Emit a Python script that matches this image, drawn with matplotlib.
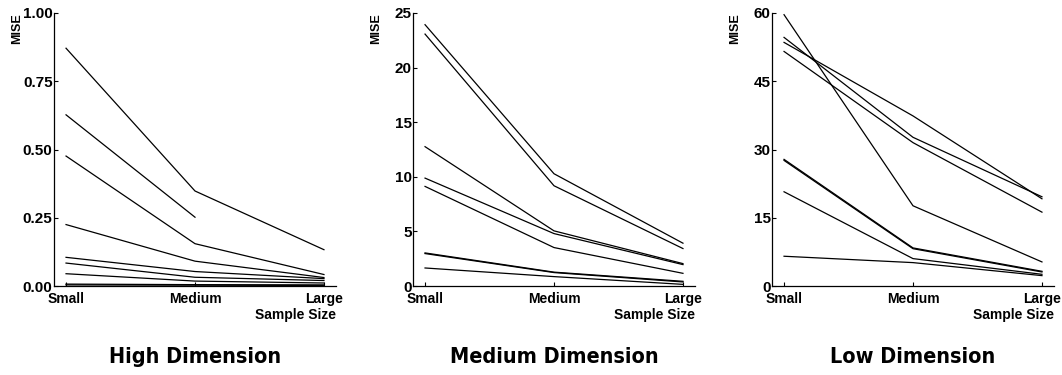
import numpy as np
import matplotlib
matplotlib.use("Agg")
import matplotlib.pyplot as plt
from matplotlib import font_manager

# sample size categories on the x axis
sizes = ["Small", "Medium", "Large"]

# MISE per method, one row per line (Small, Medium, Large)
high_dim = [
    [0.871, 0.348, 0.133],
    [0.627, 0.252, np.nan],
    [0.476, 0.155, 0.042],
    [0.225, 0.091, 0.031],
    [0.105, 0.053, 0.027],
    [0.084, 0.032, 0.020],
    [0.045, 0.018, 0.011],
    [0.007, 0.005, 0.004],
    [0.004, 0.003, 0.002],
]
medium_dim = [
    [23.93, 10.28, 3.92],
    [23.07, 9.18, 3.43],
    [12.76, 5.05, 2.05],
    [9.88, 4.80, 1.96],
    [9.12, 3.52, 1.16],
    [3.03, 1.27, 0.43],
    [2.97, 1.23, 0.37],
    [1.65, 0.86, 0.15],
]
low_dim = [
    [59.63, 17.63, 5.29],
    [54.64, 32.68, 19.61],
    [53.54, 37.38, 19.17],
    [51.55, 31.51, 16.23],
    [27.83, 8.37, 3.23],
    [27.60, 8.20, 3.08],
    [20.71, 6.02, 2.57],
    [6.54, 5.14, 2.28],
]

titles = ["High Dimension", "Medium Dimension", "Low Dimension"]
panels = [high_dim, medium_dim, low_dim]
yticks = [[0, 0.25, 0.5, 0.75, 1.0], [0, 5, 10, 15, 20, 25], [0, 15, 30, 45, 60]]
yfmt = ["{:.2f}", "{:g}", "{:g}"]

plt.rcParams["font.family"] = ["Liberation Sans", "DejaVu Sans"]

# pick a narrow bold face for the panel titles, Arial Narrow look-alike first
names = {f.name for f in font_manager.fontManager.ttflist}
if "Liberation Sans Narrow" in names:
    title_kw = dict(family=["Liberation Sans Narrow"], fontsize=19)
elif "DejaVu Sans Condensed" in names:
    title_kw = dict(family=["DejaVu Sans Condensed"], fontsize=15.5)
else:
    title_kw = dict(family=["DejaVu Sans"], fontstretch="condensed", fontsize=15.5)

fig = plt.figure(figsize=(10.62, 3.75), dpi=100)

W, H = 1062, 375
lefts = [54, 413, 772]
width = 282
top, bottom = 13, 286

for i, data in enumerate(panels):
    ax = fig.add_axes([lefts[i] / W, 1 - bottom / H, width / W, (bottom - top) / H])
    x = np.arange(1, 4)
    for row in data:
        ax.plot(x, row, color="black", lw=0.9)
    ax.set_xlim(1 - 12 / 128.5, 3 + 12 / 128.5)
    ax.set_ylim(yticks[i][0], yticks[i][-1])
    ax.set_xticks(x)
    ax.set_xticklabels(sizes, fontweight="bold", fontsize=10)
    ax.set_yticks(yticks[i])
    ax.set_yticklabels([yfmt[i].format(t) for t in yticks[i]], fontweight="bold", fontsize=11)
    ax.tick_params(direction="in", length=3, width=0.8)
    ax.tick_params(axis="y", pad=1)
    ax.tick_params(axis="x", pad=4.5)
    for s in ["top", "right"]:
        ax.spines[s].set_visible(False)
    ax.spines["left"].set_linewidth(0.9)
    ax.spines["bottom"].set_linewidth(0.9)
    ax.text(-0.13, 1.0, "MISE", transform=ax.transAxes, rotation=90,
            ha="center", va="top", fontsize=9, fontweight="bold")
    ax.text(1.0, -0.08, "Sample Size", transform=ax.transAxes,
            ha="right", va="top", fontsize=10, fontweight="bold")
    ax.text(0.5, -0.225, titles[i], transform=ax.transAxes, ha="center", va="top",
            fontweight="bold", **title_kw)

fig.savefig("out.png", dpi=100)
